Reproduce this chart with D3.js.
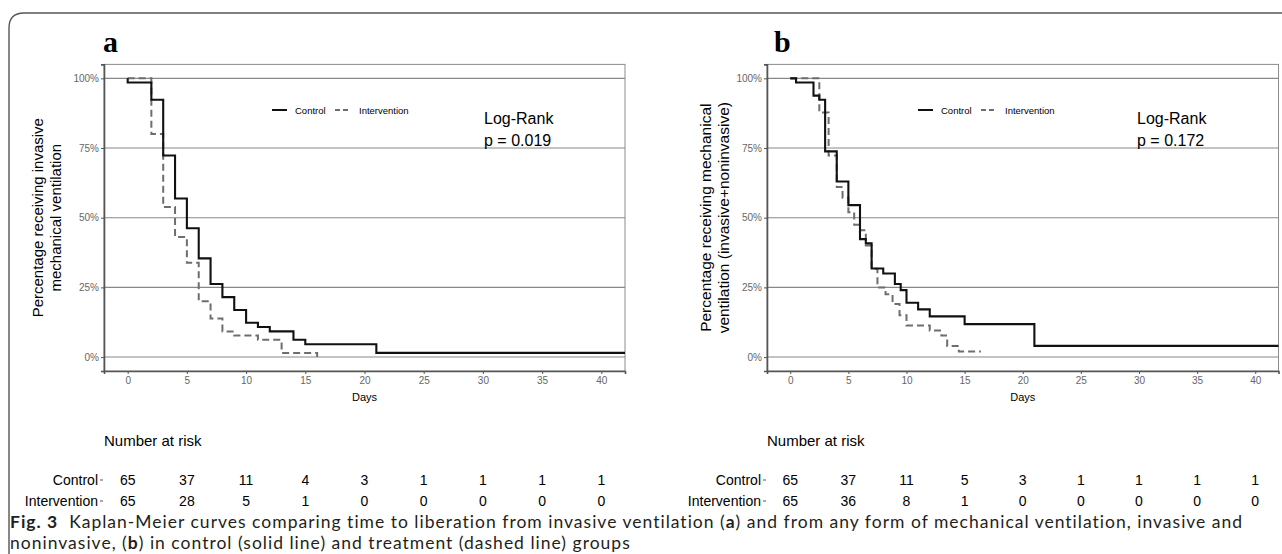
<!DOCTYPE html>
<html>
<head>
<meta charset="utf-8">
<script src="https://cdn.jsdelivr.net/npm/d3@7"></script>
<style>
  body { margin: 0; background: #fff; }
  svg { display: block; }
</style>
</head>
<body>
<script>
// ---- data ----
const riskDays = [0, 5, 10, 15, 20, 25, 30, 35, 40];
const groups = ["Control", "Intervention"];
const pctTicks = [0, 0.25, 0.5, 0.75, 1];

// panel a: invasive mechanical ventilation
const aControlDays = [0, 0, 2, 3, 4, 5, 6, 7, 8, 9, 10, 11, 12, 14, 15, 21, 42];
const aControlSurv = [1, 0.985, 0.923, 0.723, 0.569, 0.462, 0.354, 0.262, 0.215, 0.169, 0.123, 0.108, 0.092, 0.062, 0.046, 0.015, 0.015];
const aInterDays = [0, 2, 3, 4, 5, 6, 7, 8, 9, 11, 13, 16];
const aInterSurv = [1, 0.8, 0.538, 0.431, 0.338, 0.2, 0.138, 0.092, 0.077, 0.062, 0.015, 0];
const aRiskControl = [65, 37, 11, 4, 3, 1, 1, 1, 1];
const aRiskInter = [65, 28, 5, 1, 0, 0, 0, 0, 0];

// panel b: any mechanical ventilation (invasive + noninvasive)
const bControlDays = [0, 0.5, 2, 2.5, 3, 4, 5, 6, 6.5, 7, 8, 9, 9.5, 10, 11, 12, 15, 21, 42];
const bControlSurv = [1, 0.985, 0.938, 0.923, 0.738, 0.63, 0.545, 0.423, 0.408, 0.318, 0.3, 0.262, 0.24, 0.195, 0.171, 0.146, 0.118, 0.04, 0.04];
const bInterDays = [0, 2.5, 3.3, 4, 4.5, 5, 5.5, 6, 6.5, 7, 7.5, 8.2, 8.8, 9.4, 10, 12, 13, 13.5, 14.5, 16.4];
const bInterSurv = [1, 0.877, 0.723, 0.61, 0.572, 0.52, 0.475, 0.455, 0.4, 0.317, 0.25, 0.225, 0.19, 0.15, 0.113, 0.095, 0.077, 0.04, 0.02, 0.02];
const bRiskControl = [65, 37, 11, 5, 3, 1, 1, 1, 1];
const bRiskInter = [65, 36, 8, 1, 0, 0, 0, 0, 0];

var W = 1282, H = 554;
var svg = d3.select("body").append("svg")
  .attr("width", W)
  .attr("height", H);

// outer frame with rounded top-left corner
svg.append("path")
  .attr("d", "M9," + H + " V28 Q9,13 24,13 H" + W)
  .attr("fill", "none")
  .attr("stroke", "#555")
  .attr("stroke-width", 1.4);

var sans = "'Liberation Sans', Arial, sans-serif";

function drawPanel(p) {
  var x = d3.scaleLinear().domain([-2, 42]).range([p.left, p.right]);
  var y = d3.scaleLinear().domain([-0.05, 1.05]).range([371, 64.4]);
  var g = svg.append("g");

  // panel letter
  g.append("text")
    .attr("x", p.letterX).attr("y", 52)
    .attr("font-family", "'Liberation Serif', 'Times New Roman', serif")
    .attr("font-weight", "bold")
    .attr("font-size", 30)
    .text(p.letter);

  // panel border
  g.append("rect")
    .attr("x", x(-2)).attr("y", y(1.05))
    .attr("width", x(42) - x(-2)).attr("height", y(-0.05) - y(1.05))
    .attr("fill", "none")
    .attr("stroke", "#8c8c8c")
    .attr("stroke-width", 1);

  // horizontal grid
  g.selectAll(".grid")
    .data(pctTicks)
    .enter().append("line")
    .attr("x1", x(-2)).attr("x2", x(42))
    .attr("y1", function (d) { return y(d); })
    .attr("y2", function (d) { return y(d); })
    .attr("stroke", "#888")
    .attr("stroke-width", 1.1);

  // axes
  var xAxis = g.append("g")
    .attr("transform", "translate(0," + y(-0.05) + ")")
    .call(d3.axisBottom(x).tickValues(riskDays).tickSize(3).tickPadding(3));
  var yAxis = g.append("g")
    .attr("transform", "translate(" + x(-2) + ",0)")
    .call(d3.axisLeft(y).tickValues(pctTicks).tickFormat(d3.format(".0%")).tickSize(3).tickPadding(2));
  [xAxis, yAxis].forEach(function (ax) {
    ax.select(".domain").attr("stroke", "#555").attr("stroke-width", 1.6);
    ax.selectAll(".tick line").attr("stroke", "#555");
    ax.selectAll(".tick text")
      .attr("fill", "#666")
      .attr("font-family", sans)
      .attr("font-size", 10);
  });

  // axis titles
  g.append("text")
    .attr("x", (x(-2) + x(42)) / 2).attr("y", 401)
    .attr("text-anchor", "middle")
    .attr("font-family", sans).attr("font-size", 11)
    .text("Days");
  var yt = g.append("text")
    .attr("transform", "translate(" + p.titleX + "," + ((y(1.05) + y(-0.05)) / 2) + ") rotate(-90)")
    .attr("text-anchor", "middle")
    .attr("font-family", sans).attr("font-size", p.titleSize);
  p.title.forEach(function (t, i) {
    yt.append("tspan").attr("x", 0).attr("dy", i === 0 ? 0 : p.titleSize * 1.18).text(t);
  });

  // curves
  var line = d3.line()
    .x(function (d) { return x(d[0]); })
    .y(function (d) { return y(d[1]); })
    .curve(d3.curveStepAfter);
  g.append("path")
    .datum(d3.zip(p.interDays, p.interSurv))
    .attr("d", line)
    .attr("fill", "none")
    .attr("stroke", "#6e6e6e")
    .attr("stroke-width", 2)
    .attr("stroke-dasharray", "7,4");
  g.append("path")
    .datum(d3.zip(p.controlDays, p.controlSurv))
    .attr("d", line)
    .attr("fill", "none")
    .attr("stroke", "#111")
    .attr("stroke-width", 2.1);

  // legend
  var lg = g.append("g").attr("transform", "translate(" + p.legendX + ",110)");
  lg.append("line").attr("x1", 0).attr("x2", 15).attr("stroke", "#111").attr("stroke-width", 2);
  lg.append("text").attr("x", 23).attr("y", 3.5)
    .attr("font-family", sans).attr("font-size", 9.5).text(groups[0]);
  lg.append("line").attr("x1", 63).attr("x2", 78)
    .attr("stroke", "#6e6e6e").attr("stroke-width", 2).attr("stroke-dasharray", "5,3");
  lg.append("text").attr("x", 87).attr("y", 3.5)
    .attr("font-family", sans).attr("font-size", 9.5).text(groups[1]);

  // log-rank annotation
  g.append("text").attr("x", p.lrX).attr("y", 124)
    .attr("font-family", sans).attr("font-size", 16).text("Log-Rank");
  g.append("text").attr("x", p.lrX).attr("y", 146)
    .attr("font-family", sans).attr("font-size", 16).text(p.pval);

  // number at risk table
  g.append("text").attr("x", x(-2)).attr("y", 446)
    .attr("font-family", sans).attr("font-size", 15).text("Number at risk");
  var rows = [p.riskControl, p.riskInter];
  rows.forEach(function (vals, r) {
    var ry = 485 + r * 21;
    g.append("text").attr("x", x(-2) - 6).attr("y", ry)
      .attr("text-anchor", "end")
      .attr("font-family", sans).attr("font-size", 14).text(groups[r]);
    g.append("line").attr("x1", x(-2) - 4).attr("x2", x(-2) - 1)
      .attr("y1", ry - 5).attr("y2", ry - 5)
      .attr("stroke", "#555");
    g.selectAll(".risk" + r)
      .data(vals)
      .enter().append("text")
      .attr("x", function (d, i) { return x(riskDays[i]); })
      .attr("y", ry)
      .attr("text-anchor", "middle")
      .attr("font-family", sans).attr("font-size", 14)
      .text(function (d) { return d; });
  });
}

drawPanel({
  left: 104, right: 625, letter: "a", letterX: 103,
  title: ["Percentage receiving invasive", "mechanical ventilation"], titleX: 43, titleSize: 15,
  controlDays: aControlDays, controlSurv: aControlSurv,
  interDays: aInterDays, interSurv: aInterSurv,
  riskControl: aRiskControl, riskInter: aRiskInter,
  legendX: 272, lrX: 484, pval: "p = 0.019"
});
drawPanel({
  left: 767, right: 1278.5, letter: "b", letterX: 774,
  title: ["Percentage receiving mechanical", "ventilation (invasive+noninvasive)"], titleX: 711, titleSize: 15.5,
  controlDays: bControlDays, controlSurv: bControlSurv,
  interDays: bInterDays, interSurv: bInterSurv,
  riskControl: bRiskControl, riskInter: bRiskInter,
  legendX: 918, lrX: 1137, pval: "p = 0.172"
});

// caption: one text block, two lines
var capFont = "Lato, 'Open Sans', sans-serif";
var cap = svg.append("text").attr("x", 10).attr("y", 528)
  .attr("font-family", capFont).attr("font-size", 17.5).attr("fill", "#231f20");
cap.append("tspan").attr("font-weight", "bold").text("Fig. 3");
cap.append("tspan").text("\u00a0\u00a0Kaplan-Meier curves comparing time to liberation from invasive ventilation (");
cap.append("tspan").attr("font-weight", "bold").text("a");
cap.append("tspan").text(") and from any form of mechanical ventilation, invasive and");

// stretch line 1 to the reference line length with letter spacing
var w1 = 0, n1 = 0;
cap.selectAll("tspan").each(function () {
  w1 += this.getComputedTextLength();
  n1 += this.textContent.length;
});
cap.attr("letter-spacing", Math.max(0, (1235 - w1) / n1));

cap.append("tspan").attr("x", 10).attr("dy", 21).text("noninvasive, (");
cap.append("tspan").attr("font-weight", "bold").text("b");
cap.append("tspan").text(") in control (solid line) and treatment (dashed line) groups");
</script>
</body>
</html>
